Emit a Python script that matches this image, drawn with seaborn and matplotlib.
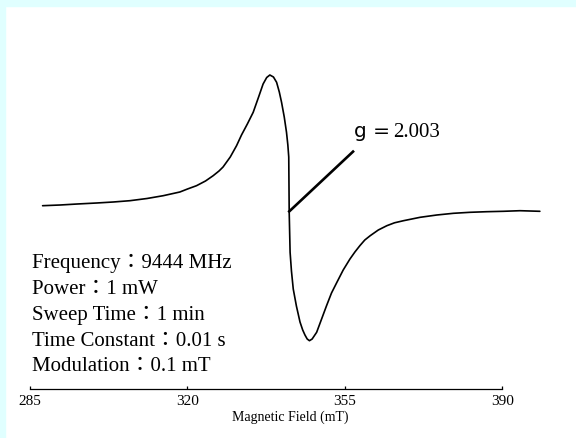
import matplotlib
matplotlib.use("Agg")
import matplotlib.pyplot as plt
import seaborn as sns
import pandas as pd
from matplotlib.patches import Rectangle

# ---- data ----
field_mT = [287.8, 291.7, 295.5, 299.8, 303.5, 307.2, 311.0, 314.6, 318.3, 320.0,
            322.0, 324.0, 325.7, 327.0, 327.9, 329.5, 330.9, 332.0, 333.3, 334.6,
            335.8, 336.8, 337.6, 338.3, 339.1, 339.8, 340.4, 340.9, 341.5, 342.0,
            342.3, 342.5, 342.6, 342.8, 343.1, 343.5, 344.2, 345.0, 345.6, 346.1,
            346.6, 347.1, 347.7, 348.7, 349.8, 350.9, 352.0, 353.2, 354.6, 356.1,
            357.2, 358.3, 359.4, 360.6, 362.4, 364.3, 366.0, 368.0, 371.7, 375.4,
            379.1, 382.8, 386.5, 390.2, 393.9, 398.3]
signal = [3.3, 4.0, 5.0, 6.0, 7.0, 8.3, 10.5, 13.3, 17.0, 20.0,
          23.3, 28.0, 33.3, 38.0, 42.0, 52.0, 63.3, 74.0, 85.0, 96.7,
          112.0, 125.0, 131.5, 134.0, 132.0, 126.7, 117.0, 106.7, 92.0, 76.7,
          64.0, 52.0, -3.3, -43.3, -62.0, -80.0, -97.0, -113.0, -121.0, -126.0,
          -130.0, -131.7, -130.0, -123.3, -110.0, -96.7, -84.0, -73.3, -61.0, -50.0,
          -43.0, -36.7, -31.0, -26.7, -21.0, -16.7, -13.8, -11.7, -8.3, -6.0,
          -4.3, -3.3, -2.7, -2.3, -1.7, -2.3]
tick_values = [285, 320, 355, 390]
x_label = "Magnetic Field (mT)"
g_label_value = "2.003"
g_pointer_field = [342.4, 357.0]
g_pointer_signal = [-3.3, 58.3]
conditions = ["Frequency：9444 MHz",
              "Power：1 mW",
              "Sweep Time：1 min",
              "Time Constant：0.01 s",
              "Modulation：0.1 mT"]

df = pd.DataFrame({"field": field_mT, "signal": signal})

sns.set_theme(style="white")
plt.rcParams["font.family"] = ["Liberation Serif", "Noto Sans CJK JP"]
plt.rcParams["text.color"] = "black"
plt.rcParams["axes.labelcolor"] = "black"
plt.rcParams["xtick.color"] = "black"

W, H = 576, 439
fig = plt.figure(figsize=(W / 100, H / 100), dpi=100, facecolor="white")

# light cyan frame (top and left)
fig.patches.append(Rectangle((0, 1 - 7 / H), 1, 7 / H, transform=fig.transFigure,
                             color="#e0ffff", zorder=0))
fig.patches.append(Rectangle((0, 0), 5 / W, 1, transform=fig.transFigure,
                             color="#e0ffff", zorder=0))

px_per_mT = 4.5
x0_px, x1_px = 30, 550
y_axis_px, y_top_px = 389.5, 60
ax = fig.add_axes([x0_px / W, 1 - y_axis_px / H, (x1_px - x0_px) / W,
                   (y_axis_px - y_top_px) / H])
ax.set_facecolor("none")

sns.lineplot(data=df, x="field", y="signal", ax=ax, color="black", lw=1.2,
             sort=False, estimator=None)
ax.plot(g_pointer_field, g_pointer_signal, color="black", lw=1.9,
        solid_capstyle="butt")

ax.set_xlim(285, 285 + (x1_px - x0_px) / px_per_mT)
ax.set_ylim(210 - y_axis_px, 210 - y_top_px)

for s in ["left", "top", "right"]:
    ax.spines[s].set_visible(False)
ax.spines["bottom"].set_bounds(tick_values[0], tick_values[-1])
ax.spines["bottom"].set_color("black")
ax.spines["bottom"].set_linewidth(0.9)
ax.set_yticks([])
ax.set_xticks(tick_values)
ax.set_xticklabels([str(t) for t in tick_values], fontsize=11)
ax.tick_params(axis="x", direction="in", length=2.5, width=0.9, color="black",
               labelcolor="black", pad=4, bottom=True)
ax.set_xlabel(x_label, fontsize=10, labelpad=2, color="black")
ax.set_ylabel("")

# g-value label
ax.text(g_pointer_field[1] - 0.1, 210 - 136.7, "g =", fontsize=14.5,
        family=["DejaVu Sans"], va="baseline", ha="left", color="black")
ax.text(285 + (393 - x0_px) / px_per_mT, 210 - 136.7, g_label_value,
        fontsize=15, va="baseline", ha="left", color="black")

# measurement conditions
baselines = [268, 294, 320, 346, 371]
for txt, yb in zip(conditions, baselines):
    fig.text(32 / W, 1 - yb / H, txt, fontsize=15, va="baseline", ha="left",
             color="black", family=["Liberation Serif", "Noto Sans CJK JP"])

fig.savefig("out.png", dpi=100, facecolor="white")
